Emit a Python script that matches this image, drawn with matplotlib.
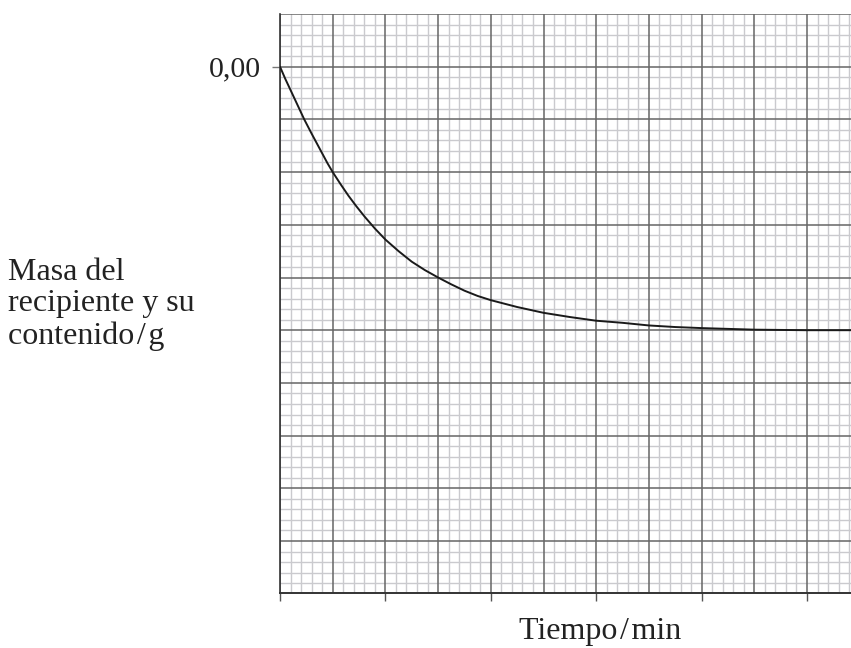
import matplotlib
matplotlib.use("Agg")
import matplotlib.pyplot as plt
import numpy as np

# Data (x in major grid units of time, y in major grid units of mass)
time_vals = [0, 0.1, 0.25, 0.46, 0.6, 0.75, 0.9, 1.0, 1.15, 1.3, 1.45, 1.61, 1.8,
             2.0, 2.25, 2.5, 2.75, 3.0, 3.25, 3.5, 3.75, 4.0, 4.5,
             5.0, 5.5, 6.0, 6.5, 7.0, 7.5, 8.0, 9.0, 10.0, 10.9]
mass_vals = [0, -0.23, -0.55, -1.0, -1.27, -1.55, -1.83, -2.0, -2.23, -2.45, -2.65,
             -2.85, -3.07, -3.28, -3.5, -3.7, -3.86, -4.0, -4.13, -4.25, -4.35,
             -4.43, -4.56, -4.67, -4.75, -4.82, -4.86, -4.91, -4.94, -4.96, -4.99,
             -5.0, -5.0]
x_ticks = [0, 2, 4, 6, 8, 10]
y_tick_pos = [0]
y_tick_labels = ["0,00"]

W, H = 851, 648
fig = plt.figure(figsize=(W / 100, H / 100), dpi=100)
left, right, top, bottom = 280, 851, 14, 593.3
ax = fig.add_axes([left / W, 1 - bottom / H, (right - left) / W, (bottom - top) / H])
maj = 52.7
ax.set_xlim(0, (right - left) / maj)
ax.set_ylim(-(bottom - top) / maj + 1, 1)

# grid
for v in np.arange(0, 11.01, 0.2):
    if abs(v - round(v)) > 1e-6:
        ax.axvline(v, color="#cacace", lw=1.0, zorder=0)
for v in np.arange(-10, 1.01, 0.2):
    if abs(v - round(v)) > 1e-6:
        ax.axhline(v, color="#cacace", lw=1.0, zorder=0)
for v in range(0, 11):
    ax.axvline(v, color="#666666", lw=1.1, zorder=1)
for v in range(-10, 2):
    ax.axhline(v, color="#666666", lw=1.1, zorder=1)

ax.plot(time_vals, mass_vals, color="#1a1a1a", lw=1.4, zorder=3,
        solid_capstyle="round", solid_joinstyle="round")

for s in ["top", "right"]:
    ax.spines[s].set_visible(False)
ax.spines["left"].set_color("#333333")
ax.spines["bottom"].set_color("#333333")
ax.spines["left"].set_linewidth(1.2)
ax.spines["bottom"].set_linewidth(1.4)

serif = ["Liberation Serif", "DejaVu Serif"]
ax.set_xticks(x_ticks)
ax.set_xticklabels([])
ax.set_yticks(y_tick_pos)
ax.set_yticklabels(y_tick_labels, family=serif, fontsize=21.5, color="#222222")
ax.tick_params(axis="x", length=6, width=1.0, color="#555555", direction="out")
ax.tick_params(axis="y", length=6, width=1.0, color="#777777", direction="out", pad=8)

fs = 23
fig.text(8 / W, 1 - 272 / H, "Masa del", family=serif, fontsize=fs, va="center", ha="left", color="#222222")
fig.text(8 / W, 1 - 304 / H, "recipiente y su", family=serif, fontsize=fs, va="center", ha="left", color="#222222")
fig.text(8 / W, 1 - 336 / H, "contenido\u200a/\u200ag", family=serif, fontsize=fs, va="center", ha="left", color="#222222")
fig.text(600 / W, 1 - 632 / H, "Tiempo\u200a/\u200amin", family=serif, fontsize=fs, va="center", ha="center", color="#222222")

fig.savefig("out.png", dpi=100)
